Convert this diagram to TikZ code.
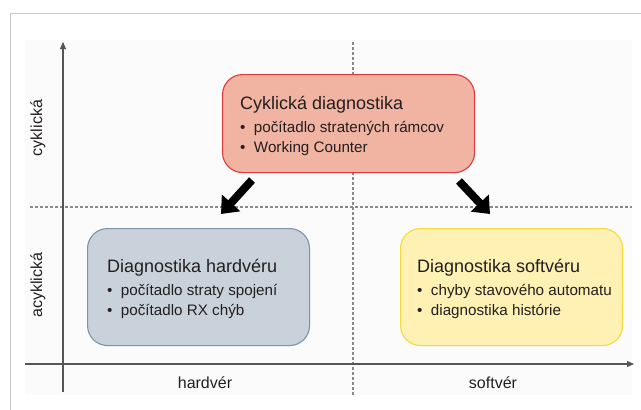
\documentclass[tikz,border=0pt]{standalone}
\usepackage{fontspec}
\setmainfont{Liberation Sans}
\usetikzlibrary{arrows.meta}
\definecolor{redfill}{HTML}{F2B4A2}
\definecolor{redline}{HTML}{E03A3E}
\definecolor{grayfill}{HTML}{C9D2DB}
\definecolor{grayline}{HTML}{7D93A8}
\definecolor{yelfill}{HTML}{FEF1B3}
\definecolor{yelline}{HTML}{F6D93A}
\definecolor{axiscol}{HTML}{555555}
\definecolor{dashcol}{HTML}{8A8A8A}
\definecolor{framecol}{HTML}{C8C8C8}
\definecolor{txt}{HTML}{231F20}
\tikzset{
  catbox/.style={rounded corners=20pt, line width=1.1pt, minimum width=#1, minimum height=117pt, anchor=north west, inner sep=0pt},
  boxtext/.style={anchor=north west, align=left, text=txt, inner sep=0pt, font=\fontsize{15.2}{19.5}\selectfont},
  axislbl/.style={text=txt, font=\fontsize{16}{18}\selectfont},
  axisline/.style={draw=axiscol, line width=1.1pt, -{Triangle[width=6pt,length=7pt]}},
  divider/.style={draw=dashcol, line width=1.2pt, dash pattern=on 3pt off 2pt},
  bigarrow/.style={draw=black, line width=8pt, -{Triangle[width=24pt,length=15pt]}}
}
\newcommand{\ttl}[1]{{\fontsize{18}{21}\selectfont #1}}
\begin{document}
\begin{tikzpicture}[x=1pt,y=-1pt]
\useasboundingbox (0,0) rectangle (641,410);
\fill[white] (0,0) rectangle (641,410);
% frame
\draw[framecol, line width=1pt] (10,410) -- (10,13) -- (641,13);
\fill[black!1.5] (25,40) rectangle (632,395);
% dividers
\draw[divider] (30,207) -- (632,207);
\draw[divider] (353,42) -- (353,395);
% axes
\coordinate (ybot) at (63,392);
\coordinate (ytop) at (63,42);
\coordinate (xl) at (25,364);
\coordinate (xr) at (634,364);
\draw[axisline] (ybot) -- (ytop);
\draw[axisline] (xl) -- (xr);
% axis labels
\node[axislbl] (hw) at (205,383) {hardvér};
\node[axislbl] (sw) at (493,383) {softvér};
\node[axislbl, rotate=90] (cyk) at (38,128) {cyklická};
\node[axislbl, rotate=90] (acyk) at (38,285) {acyklická};
% boxes
\node[catbox=252pt, minimum height=98pt, fill=redfill, draw=redline] (red) at (222,74) {};
\node[catbox=222pt, fill=grayfill, draw=grayline] (gray) at (87,228) {};
\node[catbox=222pt, fill=yelfill, draw=yelline] (yel) at (400,228) {};
% texts
\node[boxtext] (redt) at (240,96) {\ttl{Cyklická diagnostika}\\[4pt]
  \textbullet\ \ počítadlo stratených rámcov\\
  \textbullet\ \ Working Counter};
\node[boxtext] (grayt) at (107,259) {\ttl{Diagnostika hardvéru}\\[4pt]
  \textbullet\ \ počítadlo straty spojení\\
  \textbullet\ \ počítadlo RX chýb};
\node[boxtext] (yelt) at (417,259) {\ttl{Diagnostika softvéru}\\[4pt]
  \textbullet\ \ chyby stavového automatu\\
  \textbullet\ \ diagnostika histórie};
% big arrows
\coordinate (a1s) at (252,180);
\coordinate (a1e) at (221,214);
\coordinate (a2s) at (459,181);
\coordinate (a2e) at (490,214);
\draw[bigarrow] (a1s) -- (a1e);
\draw[bigarrow] (a2s) -- (a2e);
\end{tikzpicture}
\end{document}
